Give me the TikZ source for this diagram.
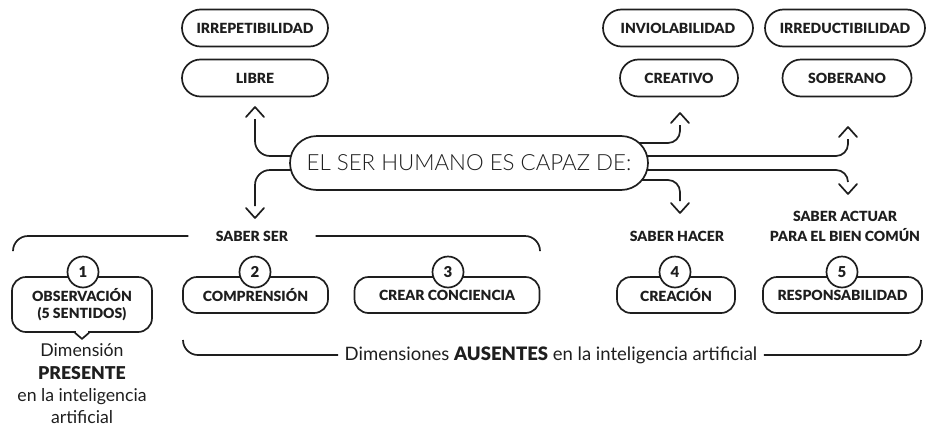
\documentclass[tikz,border=0pt]{standalone}
\usepackage{fontspec}
\setmainfont{Lato}
\newfontfamily\lightfont{Lato Light}
\newfontfamily\blackfont{Lato Black}
\usetikzlibrary{calc,shapes.misc}
\definecolor{ink}{HTML}{1E1E1E}
\tikzset{
  lw/.style={line width=1.7pt},
  pill/.style={rounded rectangle, draw=ink, lw, minimum height=37pt, inner sep=0pt,
    font=\blackfont\fontsize{14}{15}\selectfont, text=ink},
  numbox/.style={rectangle, rounded corners=14pt, draw=ink, lw, minimum height=36pt, inner sep=0pt,
    align=center, font=\blackfont\fontsize{14}{16.5}\selectfont, text=ink},
  numcirc/.style={circle, draw=ink, lw, fill=white, minimum size=31pt, inner sep=0pt,
    font=\blackfont\fontsize{15}{15}\selectfont, text=ink},
  conn/.style={draw=ink, lw},
  head/.style={font=\blackfont\fontsize{14}{20}\selectfont, text=ink, align=center},
  plain/.style={font=\fontsize{17.7}{22.3}\selectfont, text=ink, align=center},
  chevup/.pic={\draw[draw=ink, lw, line cap=round, line join=round] (-9,10) -- (0,0) -- (9,10);},
  chevdown/.pic={\draw[draw=ink, lw, line cap=round, line join=round] (-9,-10) -- (0,0) -- (9,-10);}
}
\begin{document}
\begin{tikzpicture}[x=1pt,y=-1pt]
\useasboundingbox (0,0) rectangle (929,426);

% central node
\node[rounded rectangle, draw=ink, lw, minimum width=358pt, minimum height=54pt, inner sep=0pt,
  font=\lightfont\fontsize{22.3}{22}\selectfont, text=ink] (ser) at (469,163) {EL SER HUMANO ES CAPAZ DE:};

% top pills
\node[pill, minimum width=146pt] (irrep) at (255,28) {IRREPETIBILIDAD};
\node[pill, minimum width=146pt] (libre) at (255,78) {LIBRE};
\node[pill, minimum width=150pt] (inviol) at (678,28) {INVIOLABILIDAD};
\node[pill, minimum width=118pt] (creat) at (679,78) {CREATIVO};
\node[pill, minimum width=160pt] (irred) at (845,28) {IRREDUCTIBILIDAD};
\node[pill, minimum width=129pt] (sober) at (847,78) {SOBERANO};

% chevron tips
\coordinate (tLU) at (255,107);
\coordinate (tLD) at (255,218);
\coordinate (tRU) at (680,113);
\coordinate (tRD) at (680,213);
\coordinate (tFU) at (848,127);
\coordinate (tFD) at (848,194);
\pic at (tLU) {chevup};
\pic at (tLD) {chevdown};
\pic at (tRU) {chevup};
\pic at (tRD) {chevdown};
\pic at (tFU) {chevup};
\pic at (tFD) {chevdown};

% connectors
\draw[conn, rounded corners=15pt] ($(ser.center)+(-178,-7)$) -| ($(tLU)+(0,12)$);
\draw[conn, rounded corners=15pt] ($(ser.center)+(-178,7)$) -| ($(tLD)+(0,-12)$);
\draw[conn, rounded corners=12pt] ($(ser.center)+(170,-20)$) -| ($(tRU)+(0,12)$);
\draw[conn, rounded corners=12pt] ($(ser.center)+(173,17)$) -| ($(tRD)+(0,-12)$);
\draw[conn, rounded corners=12pt] ($(ser.center)+(178,-7)$) -| ($(tFU)+(0,12)$);
\draw[conn, rounded corners=12pt] ($(ser.center)+(178,7)$) -| ($(tFD)+(0,-12)$);

% headings
\node[head] (sabs) at (252,236) {SABER SER};
\node[head] (sabh) at (677,236) {SABER HACER};
\node[head] (saba) at (845,226) {SABER ACTUAR\\PARA EL BIEN COMÚN};

% SABER SER bracket
\coordinate (bl) at (13,250);
\coordinate (br) at (540,250);
\draw[conn, rounded corners=15pt] (bl) |- ([xshift=-24pt]sabs.west);
\draw[conn, rounded corners=15pt] ([xshift=24pt]sabs.east) -| (br);

% numbered boxes
\node[numbox, minimum width=140pt, minimum height=55pt] (o1) at (82,304.5) {OBSERVACIÓN\\(5 SENTIDOS)};
\node[numbox, minimum width=145pt] (o2) at (255.5,295) {COMPRENSIÓN};
\node[numbox, minimum width=185pt] (o3) at (447,295) {CREAR CONCIENCIA};
\node[numbox, minimum width=118pt] (o4) at (676,295) {CREACIÓN};
\node[numbox, minimum width=159pt] (o5) at (842.5,295) {RESPONSABILIDAD};

% pointer on box 1
\fill[white] ($(o1.south)+(-6,-1.5)$) rectangle ($(o1.south)+(6,1.5)$);
\draw[draw=ink, lw, line join=round] ($(o1.south)+(-7,0)$) -- ($(o1.south)+(0,6)$) -- ($(o1.south)+(7,0)$);

\node[numcirc] (n1) at (83,272) {1};
\node[numcirc] (n2) at (255,272) {2};
\node[numcirc] (n3) at (448,272) {3};
\node[numcirc] (n4) at (675,272) {4};
\node[numcirc] (n5) at (842,272) {5};

% left text
\node[plain] (pres) at (82,384) {Dimensión\\{\blackfont PRESENTE}\\en la inteligencia\\artificial};

% bottom bracket
\node[plain, font=\fontsize{18.5}{22}\selectfont] (dim) at (551,355) {Dimensiones {\blackfont AUSENTES} en la inteligencia artificial};
\coordinate (dl) at (183,340);
\coordinate (dr) at (921,340);
\draw[conn, rounded corners=15pt] (dl) |- ([xshift=-3pt]dim.west);
\draw[conn, rounded corners=15pt] ([xshift=3pt]dim.east) -| (dr);
\end{tikzpicture}
\end{document}
